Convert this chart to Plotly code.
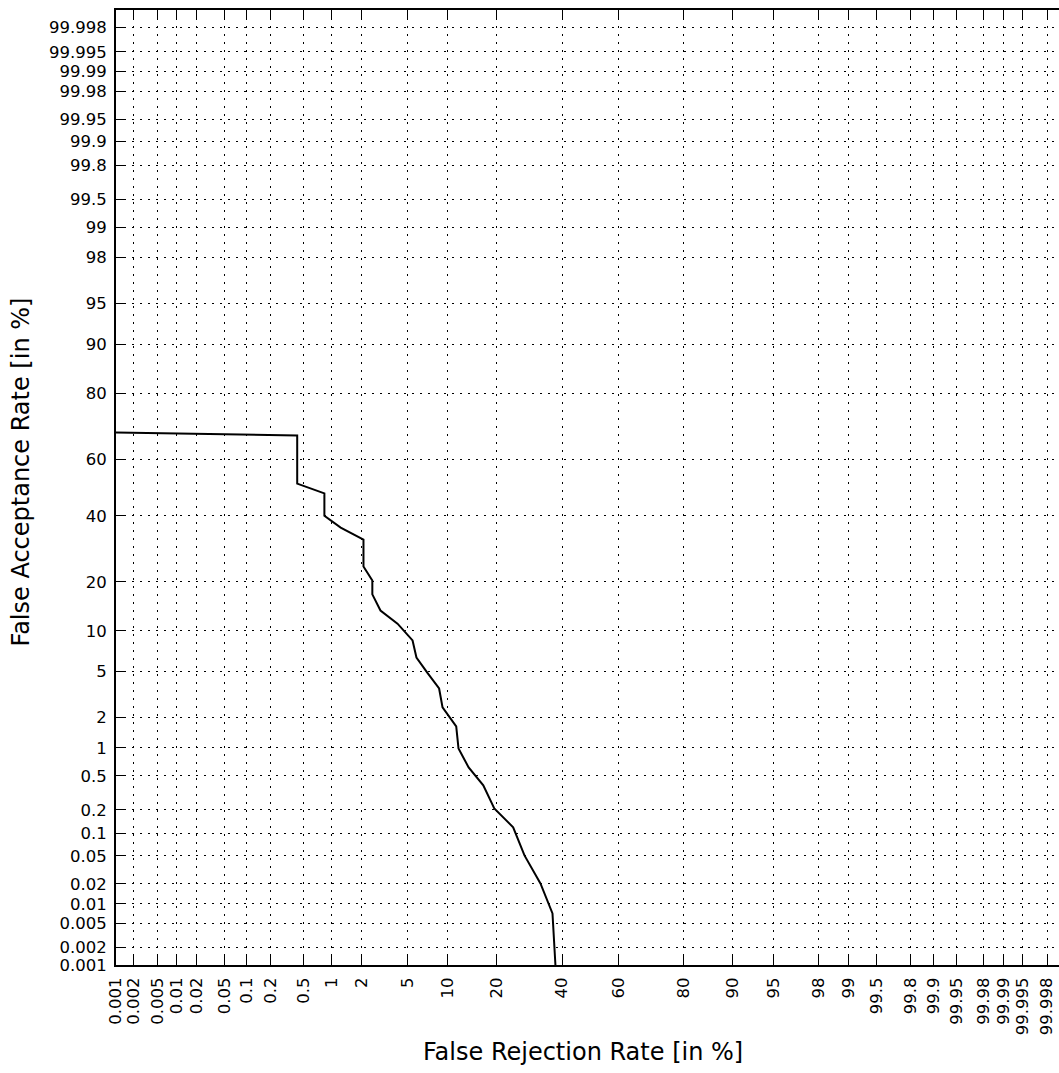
import plotly.graph_objects as go
from statistics import NormalDist

# Tick values (in %)
tick_pct = [0.001, 0.002, 0.005, 0.01, 0.02, 0.05, 0.1, 0.2, 0.5, 1, 2, 5, 10, 20, 40,
            60, 80, 90, 95, 98, 99, 99.5, 99.8, 99.9, 99.95, 99.98, 99.99, 99.995, 99.998]
tick_labels = ["0.001", "0.002", "0.005", "0.01", "0.02", "0.05", "0.1", "0.2", "0.5", "1", "2",
               "5", "10", "20", "40", "60", "80", "90", "95", "98", "99", "99.5", "99.8", "99.9",
               "99.95", "99.98", "99.99", "99.995", "99.998"]

# DET curve (in %)
frr = [0.001, 0.42, 0.42, 0.84, 0.84, 1.24, 2.07, 2.07, 2.5, 2.5, 2.96, 4.15, 5.5, 5.9, 7.2,
       8.7, 9.2, 11.4, 11.8, 13.7, 16.8, 19.4, 24.4, 27.7, 32.7, 36.7, 37.7]
far = [68.8, 67.9, 51.4, 47.9, 40.0, 36.0, 32.1, 24.0, 20.3, 17.0, 13.6, 11.2, 8.6, 6.45, 4.84,
       3.63, 2.48, 1.64, 0.99, 0.62, 0.39, 0.208, 0.12, 0.0508, 0.0203, 0.0071, 0.001]

nd = NormalDist()
def probit(p):
    return nd.inv_cdf(p / 100.0)

tickvals = [probit(v) for v in tick_pct]

fig = go.Figure()
fig.add_trace(go.Scatter(
    x=[probit(v) for v in frr], y=[probit(v) for v in far],
    mode="lines", line=dict(color="black", width=2), showlegend=False,
))

font = dict(family="DejaVu Sans", size=16.5, color="black")
axis_common = dict(
    tickvals=tickvals, ticktext=tick_labels, tickfont=font,
    ticks="inside", ticklen=9, tickwidth=1, tickcolor="black",
    showgrid=True, gridcolor="black", gridwidth=1, griddash="2px,6px",
    showline=True, linecolor="black", linewidth=2, zeroline=False,
)

fig.update_xaxes(range=[-4.265, 4.215], tickangle=-90, mirror="ticks",
                 ticklabelstandoff=4, **axis_common)
fig.update_yaxes(range=[-4.265, 4.265], mirror=False, ticklabelstandoff=4, **axis_common)

title_font = dict(family="DejaVu Sans", size=24, color="black")
fig.add_annotation(text="False Rejection Rate [in %]", xref="x", yref="paper",
                   x=-0.063, y=-0.091, yanchor="middle", xanchor="center", showarrow=False,
                   font=title_font)
fig.add_annotation(text="False Acceptance Rate [in %]", xref="paper", yref="y",
                   x=-0.0997, y=0.143, yanchor="middle", xanchor="center", showarrow=False,
                   textangle=-90, font=title_font)

fig.update_layout(
    width=1059, height=1073,
    margin=dict(l=116, r=0, t=10, b=108),
    plot_bgcolor="white", paper_bgcolor="white",
)

fig.write_html("out.html")
